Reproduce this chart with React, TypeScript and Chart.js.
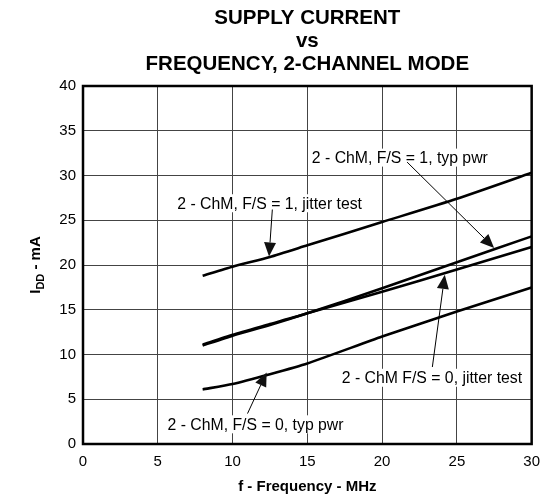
import React, { useEffect, useRef } from "react";
import { Chart, registerables } from "chart.js";

Chart.register(...registerables);

const freqMHz = [8, 10, 12.5, 15, 20, 25, 30];
const jitterFS1 = [18.8, 19.8, 20.9, 22.2, 24.8, 27.4, 30.3];
const typPwrFS1 = [11.1, 12.2, 13.4, 14.6, 17.4, 20.3, 23.2];
const jitterFS0 = [11.0, 12.1, 13.3, 14.6, 17.0, 19.5, 22.0];
const typPwrFS0 = [6.1, 6.7, 7.8, 9.0, 12.0, 14.8, 17.5];

const titleLines = ["SUPPLY CURRENT", "vs", "FREQUENCY, 2-CHANNEL MODE"];
const xTitle = "f - Frequency - MHz";
const xTicks = [0, 5, 10, 15, 20, 25, 30];
const yTicks = [0, 5, 10, 15, 20, 25, 30, 35, 40];

// annotation labels: text, left x / center y of text (data units), arrow from -> to (data units)
const labelTexts = [
  "2 - ChM, F/S = 1, typ pwr",
  "2 - ChM, F/S = 1, jitter test",
  "2 - ChM F/S = 0, jitter test",
  "2 - ChM, F/S = 0, typ pwr",
];
const labelPos = [
  [15.3, 32.0],
  [6.3, 26.9],
  [17.3, 7.4],
  [5.65, 2.2],
];
const arrowFrom = [
  [21.67, 31.5],
  [12.66, 26.2],
  [23.36, 8.6],
  [11.0, 3.4],
];
const arrowTo = [
  [27.49, 21.9],
  [12.44, 20.95],
  [24.19, 18.9],
  [12.28, 8.0],
];

const FONT = "'Liberation Sans', Arial, sans-serif";

function toPts(ys: number[]) {
  return ys.map((y, i) => ({ x: freqMHz[i], y }));
}

const overlayPlugin = {
  id: "overlay",
  afterDatasetsDraw(chart: any) {
    const ctx = chart.ctx as CanvasRenderingContext2D;
    const xs = chart.scales.x;
    const ys = chart.scales.y;
    const area = chart.chartArea;
    ctx.save();

    // annotations
    ctx.font = `15.8px ${FONT}`;
    ctx.textBaseline = "middle";
    ctx.textAlign = "left";
    labelTexts.forEach((t, i) => {
      const px = xs.getPixelForValue(labelPos[i][0]);
      const py = ys.getPixelForValue(labelPos[i][1]);
      const w = ctx.measureText(t).width;
      ctx.fillStyle = "#ffffff";
      ctx.fillRect(px - 2, py - 9, w + 4, 18);
      ctx.fillStyle = "#000000";
      ctx.fillText(t, px, py + 1);
    });
    labelTexts.forEach((_, i) => {
      const x1 = xs.getPixelForValue(arrowFrom[i][0]);
      const y1 = ys.getPixelForValue(arrowFrom[i][1]);
      const x2 = xs.getPixelForValue(arrowTo[i][0]);
      const y2 = ys.getPixelForValue(arrowTo[i][1]);
      const ang = Math.atan2(y2 - y1, x2 - x1);
      const hl = 14;
      const hw = 6;
      const bx = x2 - hl * Math.cos(ang);
      const by = y2 - hl * Math.sin(ang);
      ctx.strokeStyle = "#000";
      ctx.lineWidth = 1;
      ctx.beginPath();
      ctx.moveTo(x1, y1);
      ctx.lineTo(bx, by);
      ctx.stroke();
      ctx.fillStyle = "#111";
      ctx.beginPath();
      ctx.moveTo(x2, y2);
      ctx.lineTo(bx + hw * Math.sin(ang), by - hw * Math.cos(ang));
      ctx.lineTo(bx - hw * Math.sin(ang), by + hw * Math.cos(ang));
      ctx.closePath();
      ctx.fill();
    });

    // plot border
    ctx.strokeStyle = "#000";
    ctx.lineWidth = 2.5;
    ctx.strokeRect(area.left, area.top, area.right - area.left, area.bottom - area.top);

    // title
    const cx = (area.left + area.right) / 2;
    ctx.fillStyle = "#000";
    ctx.textAlign = "center";
    ctx.font = `bold 20.5px ${FONT}`;
    const ty = [18, 41, 64];
    titleLines.forEach((t, i) => ctx.fillText(t, cx, ty[i]));

    // x title
    ctx.font = `bold 15px ${FONT}`;
    ctx.fillText(xTitle, cx, 487);

    // y title with subscript
    const cy = (area.top + area.bottom) / 2;
    ctx.translate(36, cy);
    ctx.rotate(-Math.PI / 2);
    ctx.textAlign = "left";
    const big = `bold 15px ${FONT}`;
    const small = `bold 11px ${FONT}`;
    ctx.font = big;
    const wI = ctx.measureText("I").width;
    const wRest = ctx.measureText(" - mA").width;
    ctx.font = small;
    const wDD = ctx.measureText("DD").width;
    let x = -(wI + wDD + wRest) / 2;
    ctx.font = big;
    ctx.fillText("I", x, 0);
    x += wI;
    ctx.font = small;
    ctx.fillText("DD", x, 5);
    x += wDD;
    ctx.font = big;
    ctx.fillText(" - mA", x, 0);
    ctx.restore();
  },
};

export default function App() {
  const ref = useRef<HTMLCanvasElement | null>(null);
  useEffect(() => {
    if (!ref.current) return;
    const mk = (ys: number[], w: number) => ({
      data: toPts(ys),
      borderColor: "#000",
      borderWidth: w,
      pointRadius: 0,
      fill: false,
      tension: 0.2,
    });
    const chart = new Chart(ref.current, {
      type: "line",
      data: {
        datasets: [
          mk(jitterFS1, 2.6),
          mk(typPwrFS1, 2.6),
          mk(jitterFS0, 2.6),
          mk(typPwrFS0, 2.6),
        ],
      },
      options: {
        animation: false,
        responsive: false,
        events: [],
        layout: { padding: { left: 0, top: 86, right: 11, bottom: 0 } },
        plugins: { legend: { display: false }, title: { display: false }, tooltip: { enabled: false } },
        scales: {
          x: {
            type: "linear",
            min: 0,
            max: 30,
            afterBuildTicks: (s: any) => {
              s.ticks = xTicks.map((v) => ({ value: v }));
            },
            afterFit: (s: any) => {
              s.height = 53;
            },
            grid: { color: "#444", lineWidth: 1, drawTicks: false },
            border: { display: false },
            ticks: { color: "#000", font: { family: FONT, size: 15 }, padding: 9, maxRotation: 0 },
          },
          y: {
            type: "linear",
            min: 0,
            max: 40,
            afterBuildTicks: (s: any) => {
              s.ticks = yTicks.map((v) => ({ value: v }));
            },
            afterFit: (s: any) => {
              s.width = 83;
            },
            grid: { color: "#444", lineWidth: 1, drawTicks: false },
            border: { display: false },
            ticks: { color: "#000", font: { family: FONT, size: 15 }, padding: 7 },
          },
        },
      },
      plugins: [overlayPlugin],
    } as any);
    return () => chart.destroy();
  }, []);
  return (
    <div style={{ position: "fixed", left: 0, top: 0, width: 549, height: 497, background: "#fff" }}>
      <canvas ref={ref} width={549} height={497} style={{ display: "block" }} />
    </div>
  );
}
